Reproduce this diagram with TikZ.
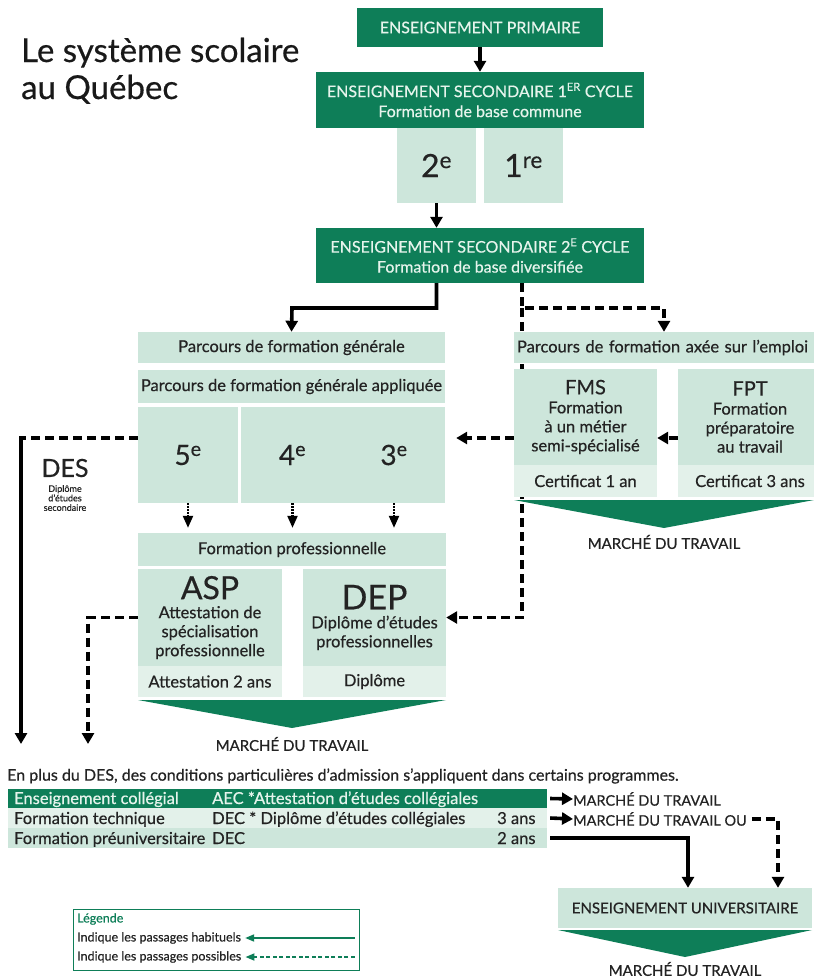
\documentclass[tikz,border=0pt]{standalone}
\usepackage{fontspec}
\setmainfont{Lato}[FakeBold=0.5]
\usetikzlibrary{arrows.meta,backgrounds}

\definecolor{dkgreen}{RGB}{14,126,88}
\definecolor{ltgreen}{RGB}{205,230,219}
\definecolor{palegreen}{RGB}{227,241,234}
\definecolor{inktxt}{RGB}{35,35,35}
\definecolor{dktxt}{RGB}{230,244,236}

\newcommand\fsz[2]{\fontsize{#1}{#2}\selectfont}

\tikzset{
  sz/.style 2 args={inner sep=0pt, align=center, minimum width=#1pt, minimum height=#2pt},
  dkbox/.style={fill=dkgreen, text=dktxt, font=\fsz{16}{20}},
  ltbox/.style={fill=ltgreen, text=inktxt, font=\fsz{16.5}{19}},
  palebox/.style={fill=palegreen, text=inktxt, font=\fsz{16.5}{19}},
  lbl/.style={text=inktxt, inner sep=0pt, font=\fsz{15}{18}},
  cell/.style={anchor=base west, inner sep=0pt, font=\fsz{16.5}{19}},
  arr/.style={line width=3.6pt, -{Triangle[width=12pt,length=11pt]}},
  dasharr/.style={arr, dash pattern=on 9pt off 5pt},
  dashline/.style={line width=3.6pt, dash pattern=on 9pt off 5pt},
  stub/.style={line width=2.2pt, dash pattern=on 1.5pt off 1.5pt, -{Triangle[width=10pt,length=12pt]}, shorten >=5pt},
  legarr/.style={line width=1.8pt, dkgreen, -{Triangle[width=7pt,length=9pt]}},
}

\begin{document}
\begin{tikzpicture}[x=1pt,y=-1pt]
  \useasboundingbox (0,0) rectangle (814,978);

  \node[anchor=base west, inner sep=0pt, font=\fsz{33}{38}, text=black!90] (titre1) at (21,62) {Le système scolaire};
  \node[anchor=base west, inner sep=0pt, font=\fsz{33}{38}, text=black!90] (titre2) at (21,99) {au Québec};

  \node[dkbox, sz={246}{39}] (prim) at (480,27.5) {ENSEIGNEMENT PRIMAIRE};
  \node[dkbox, sz={328}{56}] (sec1) at (480,100) {ENSEIGNEMENT SECONDAIRE 1\textsuperscript{ER} CYCLE\\Formation de base commune};
  \node[ltbox, sz={79}{75}, font=\fsz{32}{32}] (an2) at (436.5,165.5) {2\textsuperscript{e}};
  \node[ltbox, sz={79}{75}, font=\fsz{32}{32}] (an1) at (523.5,165.5) {1\textsuperscript{re}};
  \node[dkbox, sz={328}{55}] (sec2) at (480,255.5) {ENSEIGNEMENT SECONDAIRE 2\textsuperscript{E} CYCLE\\Formation de base diversifiée};

  \node[ltbox, sz={307}{31}] (pfg) at (291.5,347.5) {Parcours de formation générale};
  \node[ltbox, sz={307}{33}] (pfga) at (291.5,386.5) {Parcours de formation générale appliquée};
  \node[ltbox, sz={100}{96}, font=\fsz{28}{28}] (an5) at (188,455) {5\textsuperscript{e}};
  \node[ltbox, sz={103}{96}, font=\fsz{28}{28}] (an4) at (292.5,455) {4\textsuperscript{e}};
  \node[ltbox, sz={102}{96}, font=\fsz{28}{28}] (an3) at (394,455) {3\textsuperscript{e}};
  \node[lbl, font=\fsz{25}{25}] (des) at (65,468) {DES};
  \node[lbl, font=\fsz{9}{9.5}, align=center, anchor=north] (desl) at (65,485) {Diplôme\\d’études\\secondaire};

  \node[ltbox, sz={308}{33}] (fp) at (292,549.5) {Formation professionnelle};
  \node[ltbox, sz={144}{97}] (asp) at (210,617.5) {{\fsz{32}{30}ASP}\\Attestation de\\spécialisation\\professionnelle};
  \node[palebox, sz={144}{31}] (aspc) at (210,681.5) {Attestation 2 ans};
  \node[ltbox, sz={143}{97}] (dep) at (374.5,617.5) {{\fsz{34}{32}DEP}\\Diplôme d’études\\professionnelles};
  \node[palebox, sz={143}{31}] (depc) at (374.5,681.5) {Diplôme};
  \fill[dkgreen] (138,700) -- (446,700) -- (292,728) -- cycle;
  \node[lbl] (mt1) at (292,744) {MARCHÉ DU TRAVAIL};

  \node[ltbox, sz={300}{31}, text width=294pt, align=left] (pfe) at (664,347.5) {Parcours de formation axée sur l’emploi};
  \node[ltbox, sz={143}{96}] (fms) at (585.5,417) {{\fsz{20}{20}FMS}\\Formation\\à un métier\\semi-spécialisé};
  \node[palebox, sz={143}{32}] (fmsc) at (585.5,481) {Certificat 1 an};
  \node[ltbox, sz={144}{96}] (fpt) at (750,417) {{\fsz{20}{20}FPT}\\Formation\\préparatoire\\au travail};
  \node[palebox, sz={144}{32}] (fptc) at (750,481) {Certificat 3 ans};
  \fill[dkgreen] (514,500) -- (814,500) -- (664,528) -- cycle;
  \node[lbl] (mt2) at (664,542) {MARCHÉ DU TRAVAIL};

  \draw[arr] (prim) -- (sec1);
  \draw[arr] (an2) -- (an2 |- sec2.north);
  \coordinate (gauche) at (292,308);
  \coordinate (droite) at (522,308);
  \draw[arr] (sec2.south -| an2) |- (gauche) -- (pfg.north);
  \draw[dasharr] (sec2.south -| droite) -- (droite) -| (pfe.north);
  \begin{scope}[on background layer]
    \draw[dasharr] (droite) |- (dep.east);
  \end{scope}

  \coordinate (niv) at (0,438);
  \draw[dasharr] (fpt.west |- niv) -- (fms.east |- niv);
  \draw[dasharr, shorten >=11pt] (fms.west |- niv) -- (an3.east |- niv);
  \coordinate (coin) at (21,438);
  \coordinate (findes) at (21,744);
  \draw[dashline] (an5.west |- coin) -- (coin);
  \draw[arr] ([yshift=1.8pt]coin) -- (findes);
  \coordinate (finasp) at (88,744);
  \draw[dasharr] (asp.west) -| (finasp);
  \foreach \n in {an5,an4,an3}
    \draw[stub] (\n.south) -- (\n.south |- fp.north);

  \node[lbl, anchor=west, font=\fsz{16}{19}] (note) at (7,776) {En plus du DES, des conditions particulières d’admission s’appliquent dans certains programmes.};
  \node[sz={539}{19}, fill=dkgreen] (rang1) at (277.5,798.5) {};
  \node[sz={539}{20}, fill=palegreen] (rang2) at (277.5,818) {};
  \node[sz={539}{20}, fill=ltgreen] (rang3) at (277.5,838) {};
  \node[cell, text=dktxt] (c11) at (14,804) {Enseignement collégial};
  \node[cell, text=dktxt] (c12) at (212,804) {AEC *Attestation d’études collégiales};
  \node[cell, text=inktxt] (c21) at (14,824) {Formation technique};
  \node[cell, text=inktxt] (c22) at (212,824) {DEC * Diplôme d’études collégiales};
  \node[cell, text=inktxt] (c23) at (497,824) {3 ans};
  \node[cell, text=inktxt] (c31) at (14,844) {Formation préuniversitaire};
  \node[cell, text=inktxt] (c32) at (212,844) {DEC};
  \node[cell, text=inktxt] (c33) at (497,844) {2 ans};

  \node[lbl, anchor=west, font=\fsz{14.5}{17}] (mt3) at (573,799) {MARCHÉ DU TRAVAIL};
  \node[lbl, anchor=west, font=\fsz{14.5}{17}] (mt4) at (573,819) {MARCHÉ DU TRAVAIL OU};
  \node[ltbox, sz={254}{40}, font=\fsz{15}{18}] (univ) at (685,908) {ENSEIGNEMENT UNIVERSITAIRE};
  \fill[dkgreen] (558,930) -- (812,930) -- (685,957) -- cycle;
  \node[lbl] (mt5) at (685,969) {MARCHÉ DU TRAVAIL};
  \draw[arr] ([xshift=3pt]rang1.east) -- (mt3.west);
  \draw[arr] ([xshift=3pt]rang2.east) -- (mt4.west);
  \draw[arr] ([xshift=3pt]rang3.east) -| ([xshift=3pt]univ.north);
  \draw[dasharr] ([xshift=5pt]mt4.east) -| ([xshift=93pt]univ.north);

  \node[draw=dkgreen, line width=1pt, sz={286}{61}] (legende) at (216,939.5) {};
  \node[anchor=west, inner sep=0pt, text=dkgreen, font=\fsz{12.5}{15}] (leg0) at (77,919) {Légende};
  \node[anchor=west, inner sep=0pt, text=inktxt, font=\fsz{12.5}{15}] (leg1) at (77,938) {Indique les passages habituels};
  \node[anchor=west, inner sep=0pt, text=inktxt, font=\fsz{12.5}{15}] (leg2) at (77,957) {Indique les passages possibles};
  \coordinate (lgbord) at ([xshift=-5pt]legende.east);
  \draw[legarr] (lgbord |- leg1) -- ([xshift=4pt]leg1.east);
  \draw[legarr, dash pattern=on 4pt off 2.5pt] (lgbord |- leg2) -- ([xshift=4pt]leg2.east);
\end{tikzpicture}
\end{document}
